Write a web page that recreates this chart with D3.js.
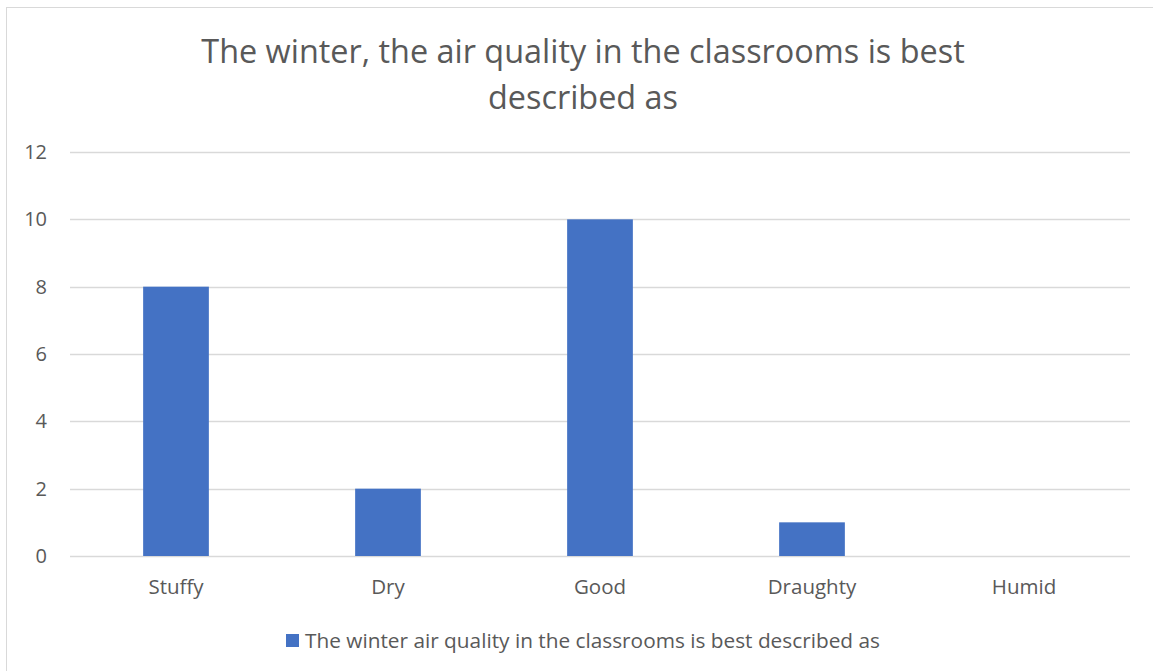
<!DOCTYPE html>
<html>
<head>
<meta charset="utf-8">
<script src="https://cdn.jsdelivr.net/npm/d3@7"></script>
<style>
  body { margin: 0; background: #fff; }
  text { font-family: "Open Sans", "Noto Sans", sans-serif; fill: #595959; }
</style>
</head>
<body>
<div id="chart"></div>
<script>
// chart data
var categories = ["Stuffy", "Dry", "Good", "Draughty", "Humid"];
var values = [8, 2, 10, 1, 0];
var yTicks = [0, 2, 4, 6, 8, 10, 12];
var titleLines = ["The winter, the air quality in the classrooms is best", "described as"];
var seriesName = "The winter air quality in the classrooms is best described as";

var width = 1153, height = 671;
var margin = {top: 152, right: 23, bottom: 115, left: 70};

var svg = d3.select("#chart").append("svg")
    .attr("width", width)
    .attr("height", height);

// chart border
svg.append("rect")
    .attr("x", 6.5).attr("y", 7.5)
    .attr("width", width + 10).attr("height", height + 10)
    .attr("fill", "none")
    .attr("stroke", "#d9d9d9");

var x = d3.scaleBand()
    .domain(categories)
    .range([margin.left, width - margin.right])
    .paddingInner(0.69)
    .paddingOuter(0.345);

var y = d3.scaleLinear()
    .domain([0, 12])
    .range([height - margin.bottom, margin.top]);

// gridlines
svg.append("g")
    .selectAll("line")
    .data(yTicks)
    .enter().append("line")
    .attr("x1", margin.left).attr("x2", width - margin.right)
    .attr("y1", function(d){ return Math.round(y(d)) + 0.5; })
    .attr("y2", function(d){ return Math.round(y(d)) + 0.5; })
    .attr("stroke", "#d9d9d9")
    .attr("stroke-width", 1.3);

// y labels
svg.append("g")
    .selectAll("text")
    .data(yTicks)
    .enter().append("text")
    .attr("x", 47)
    .attr("y", function(d){ return y(d) + 7; })
    .attr("text-anchor", "end")
    .style("font-size", "20px")
    .text(function(d){ return d; });

// bars
svg.append("g")
    .selectAll("rect")
    .data(values)
    .enter().append("rect")
    .attr("x", function(d, i){ return x(categories[i]); })
    .attr("y", function(d){ return y(d); })
    .attr("width", x.bandwidth())
    .attr("height", function(d){ return y(0) - y(d); })
    .attr("fill", "#4472C4");

// category labels
svg.append("g")
    .selectAll("text")
    .data(categories)
    .enter().append("text")
    .attr("x", function(d){ return x(d) + x.bandwidth() / 2; })
    .attr("y", 594)
    .attr("text-anchor", "middle")
    .style("font-size", "20.5px")
    .text(function(d){ return d; });

// title
svg.append("g")
    .selectAll("text")
    .data(titleLines)
    .enter().append("text")
    .attr("x", 583)
    .attr("y", function(d, i){ return 63 + i * 46; })
    .attr("text-anchor", "middle")
    .style("font-size", "32.4px")
    .text(function(d){ return d; });

// legend
var legend = svg.append("g");
legend.append("rect")
    .attr("x", 286).attr("y", 634)
    .attr("width", 13).attr("height", 13)
    .attr("fill", "#4472C4");
legend.append("text")
    .attr("x", 305).attr("y", 648)
    .style("font-size", "20.8px")
    .text(seriesName);
</script>
</body>
</html>
